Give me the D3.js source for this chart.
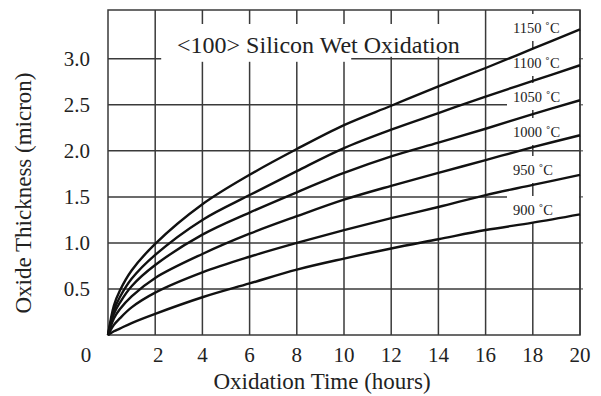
<!DOCTYPE html>
<html>
<head>
<meta charset="utf-8">
<script src="https://cdn.jsdelivr.net/npm/d3@7"></script>
<style>
  body { margin: 0; background: #fff; }
  text { font-family: "Liberation Serif", "Times New Roman", serif; fill: #222; }
</style>
</head>
<body>
<svg id="chart" width="601" height="396"></svg>
<script>
// hours on the x axis where the curves were read
const hours = [0, 0.25, 0.5, 1, 2, 4, 6, 8, 10, 12, 14, 16, 18, 20];

const temps = ["1150", "1100", "1050", "1000", "950", "900"];

// oxide thickness (micron)
const t1150 = [0, 0.32, 0.48, 0.70, 0.99, 1.42, 1.74, 2.02, 2.28, 2.49, 2.70, 2.90, 3.11, 3.32];
const t1100 = [0, 0.27, 0.41, 0.61, 0.87, 1.25, 1.52, 1.78, 2.03, 2.23, 2.41, 2.59, 2.76, 2.93];
const t1050 = [0, 0.23, 0.35, 0.53, 0.76, 1.09, 1.33, 1.55, 1.76, 1.94, 2.09, 2.24, 2.40, 2.55];
const t1000 = [0, 0.18, 0.28, 0.42, 0.62, 0.88, 1.10, 1.29, 1.47, 1.62, 1.76, 1.90, 2.04, 2.17];
const t950 = [0, 0.11, 0.18, 0.30, 0.46, 0.68, 0.85, 1.00, 1.14, 1.27, 1.39, 1.52, 1.63, 1.74];
const t900 = [0, 0.04, 0.07, 0.13, 0.23, 0.41, 0.56, 0.71, 0.83, 0.94, 1.04, 1.14, 1.22, 1.31];

const xTicks = [2, 4, 6, 8, 10, 12, 14, 16, 18, 20];
const yTicks = [0.5, 1.0, 1.5, 2.0, 2.5, 3.0];

const series = [t1150, t1100, t1050, t1000, t950, t900];

const svg = d3.select("#chart");
const GRID = "#3a3a3a";

const x = d3.scaleLinear().domain([0, 20]).range([108, 580]);
const y = d3.scaleLinear().domain([0, 3.53]).range([335, 10]);

// grid
const grid = svg.append("g");
grid.selectAll("line.v")
    .data(xTicks)
    .enter()
    .append("line")
    .attr("x1", d => x(d)).attr("x2", d => x(d))
    .attr("y1", y.range()[1]).attr("y2", y.range()[0])
    .attr("stroke", GRID).attr("stroke-width", 1.5);

grid.selectAll("line.h")
    .data(yTicks)
    .enter()
    .append("line")
    .attr("x1", x.range()[0]).attr("x2", x.range()[1])
    .attr("y1", d => y(d)).attr("y2", d => y(d))
    .attr("stroke", GRID).attr("stroke-width", 1.5);

// little outward ticks on the right border
grid.selectAll("line.rt")
    .data(yTicks)
    .enter()
    .append("line")
    .attr("x1", x.range()[1]).attr("x2", x.range()[1] + 3)
    .attr("y1", d => y(d)).attr("y2", d => y(d))
    .attr("stroke", GRID).attr("stroke-width", 1);

// title box hides part of the grid
const titleX0 = x(2) + 6, titleX1 = x(16) - 4;
svg.append("rect")
    .attr("x", titleX0).attr("y", 24)
    .attr("width", titleX1 - titleX0).attr("height", y(3.0) - 26)
    .attr("fill", "#fff");
svg.append("rect")
    .attr("x", titleX0).attr("y", y(3.0) - 3)
    .attr("width", 190).attr("height", 6)
    .attr("fill", "#fff");
svg.append("text")
    .attr("x", (titleX0 + titleX1) / 2 - 3)
    .attr("y", 53)
    .attr("text-anchor", "middle")
    .style("font-size", "24px")
    .text("<100> Silicon Wet Oxidation");

// temperature labels with white backing
const labelBase = [33, 68, 102, 137, 175, 215];
const labels = svg.append("g");
labels.selectAll("rect")
    .data(temps)
    .enter()
    .append("rect")
    .attr("x", 507)
    .attr("y", (d, i) => labelBase[i] - 19)
    .attr("width", x.range()[1] - 508)
    .attr("height", 27)
    .attr("fill", "#fff");
labels.selectAll("text")
    .data(temps)
    .enter()
    .append("text")
    .attr("x", 513)
    .attr("y", (d, i) => labelBase[i])
    .style("font-size", "14.5px")
    .text(d => d + " \u02DAC");

// frame
svg.append("rect")
    .attr("x", x.range()[0]).attr("y", y.range()[1])
    .attr("width", x.range()[1] - x.range()[0])
    .attr("height", y.range()[0] - y.range()[1])
    .attr("fill", "none")
    .attr("stroke", GRID).attr("stroke-width", 1.5);

// curves
const line = d3.line()
    .x((d, i) => x(hours[i]))
    .y(d => y(d))
    .curve(d3.curveCatmullRom.alpha(0.5));

svg.append("g")
    .selectAll("path")
    .data(series)
    .enter()
    .append("path")
    .attr("d", line)
    .attr("fill", "none")
    .attr("stroke", "#111")
    .attr("stroke-width", 2.4);

// tick labels
svg.append("g")
    .selectAll("text")
    .data(xTicks)
    .enter()
    .append("text")
    .attr("x", d => x(d) + (d === 2 ? 3 : 0))
    .attr("y", 362)
    .attr("text-anchor", "middle")
    .style("font-size", "21px")
    .text(d => d);

svg.append("text")
    .attr("x", 86).attr("y", 362)
    .attr("text-anchor", "middle")
    .style("font-size", "21px")
    .text("0");

svg.append("g")
    .selectAll("text")
    .data(yTicks)
    .enter()
    .append("text")
    .attr("x", 90)
    .attr("y", d => y(d) + 7)
    .attr("text-anchor", "end")
    .style("font-size", "21px")
    .text(d => d.toFixed(1));

// axis titles
svg.append("text")
    .attr("x", 322).attr("y", 389)
    .attr("text-anchor", "middle")
    .style("font-size", "23px")
    .text("Oxidation Time (hours)");

svg.append("text")
    .attr("transform", "translate(31, 193) rotate(-90)")
    .attr("text-anchor", "middle")
    .style("font-size", "23px")
    .text("Oxide Thickness (micron)");
</script>
</body>
</html>
